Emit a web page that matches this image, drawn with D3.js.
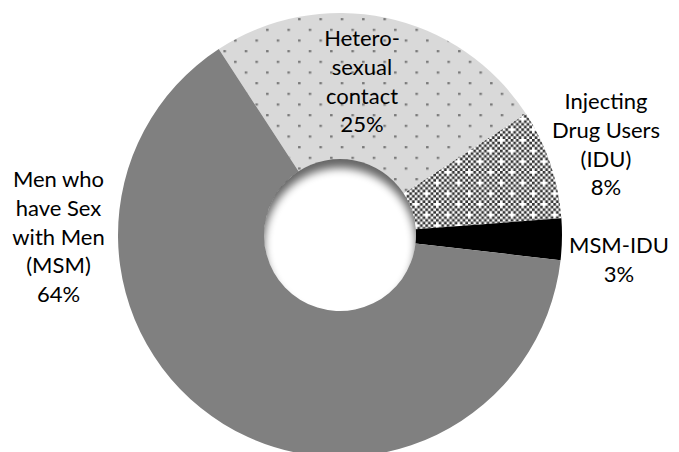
<!DOCTYPE html>
<html>
<head>
<meta charset="utf-8">
<script src="https://cdn.jsdelivr.net/npm/d3@7/dist/d3.min.js"></script>
<style>
  html, body { margin: 0; padding: 0; background: #fff; }
  svg { display: block; }
</style>
</head>
<body>
<svg id="chart" width="679" height="452"></svg>
<script>
// Transmission categories, clockwise from the top-left boundary
const categories = ["Hetero-sexual contact", "Injecting Drug Users (IDU)", "MSM-IDU", "Men who have Sex with Men (MSM)"];
const shares = [25, 8, 3, 64];
// Label lines for each category
const labelLines = [
  ["Hetero-", "sexual", "contact", "25%"],
  ["Injecting", "Drug Users", "(IDU)", "8%"],
  ["MSM-IDU", "3%"],
  ["Men who", "have Sex", "with Men", "(MSM)", "64%"]
];

const W = 679, H = 452;
const cx = 340, cy = 235;
const outerR = 222, innerR = 76;
const startDeg = -33.1;

const svg = d3.select("#chart");
const defs = svg.append("defs");

// Dotted fill: light grey with staggered grey dots
const u = 21.333 / 8;
const dots = defs.append("pattern")
  .attr("id", "dots").attr("patternUnits", "userSpaceOnUse")
  .attr("width", 8 * u).attr("height", 8 * u)
  .attr("patternTransform", "translate(235.4,60.4)");
dots.append("rect").attr("width", 8 * u).attr("height", 8 * u).attr("fill", "#d9d9d9");
[[0, 0], [4, 4]].forEach(([i, j]) => {
  dots.append("rect").attr("x", i * u).attr("y", j * u)
    .attr("width", u * 0.95).attr("height", u * 0.85).attr("fill", "#7a7a7a");
});

// Checker fill with small white crosses
const checker = defs.append("pattern")
  .attr("id", "checker").attr("patternUnits", "userSpaceOnUse")
  .attr("width", 8 * u).attr("height", 8 * u);
checker.append("rect").attr("width", 8 * u).attr("height", 8 * u).attr("fill", "#ffffff");
for (let i = 0; i < 8; i++) {
  for (let j = 0; j < 8; j++) {
    if ((i + j) % 2 !== 0) continue;
    if ((i === 0 && j === 0) || (i === 4 && j === 4)) continue;
    checker.append("rect").attr("x", i * u).attr("y", j * u)
      .attr("width", u).attr("height", u).attr("fill", "#333333");
  }
}

const fills = ["url(#dots)", "url(#checker)", "#000000", "#808080"];

const pie = d3.pie().sort(null)
  .startAngle(startDeg * Math.PI / 180)
  .endAngle(startDeg * Math.PI / 180 + 2 * Math.PI);
const arc = d3.arc().innerRadius(innerR).outerRadius(outerR);

const g = svg.append("g").attr("transform", `translate(${cx},${cy})`);
g.selectAll("path.slice")
  .data(pie(shares))
  .join("path")
  .attr("class", "slice")
  .attr("d", arc)
  .attr("fill", (d, i) => fills[i]);

// Soft inner shadow along the top of the hole
defs.append("clipPath").attr("id", "hole")
  .append("circle").attr("r", innerR);
defs.append("filter").attr("id", "soft")
  .attr("x", "-50%").attr("y", "-50%").attr("width", "200%").attr("height", "200%")
  .append("feGaussianBlur").attr("stdDeviation", 4);
const ring = d3.path();
ring.arc(0, 8, innerR + 40, 0, 2 * Math.PI);
ring.moveTo(innerR, 9);
ring.arc(0, 9, innerR, 0, 2 * Math.PI);
g.append("g").attr("clip-path", "url(#hole)")
  .append("path")
  .attr("d", ring.toString())
  .attr("fill-rule", "evenodd")
  .attr("fill", "#000")
  .attr("opacity", 0.6)
  .attr("filter", "url(#soft)");

// Labels
const labelPos = [
  { x: 362, y: 46 },
  { x: 606, y: 109 },
  { x: 619, y: 253 },
  { x: 58.5, y: 187 }
];
const lineStep = 28.8;
const labels = svg.append("g")
  .attr("font-family", "Lato, 'Open Sans', sans-serif")
  .attr("font-size", 22)
  .attr("fill", "#000")
  .attr("text-anchor", "middle");
labelLines.forEach((lines, i) => {
  const t = labels.append("text").attr("x", labelPos[i].x).attr("y", labelPos[i].y);
  lines.forEach((line, k) => {
    t.append("tspan").attr("x", labelPos[i].x).attr("y", labelPos[i].y + k * lineStep).text(line);
  });
});
</script>
</body>
</html>
